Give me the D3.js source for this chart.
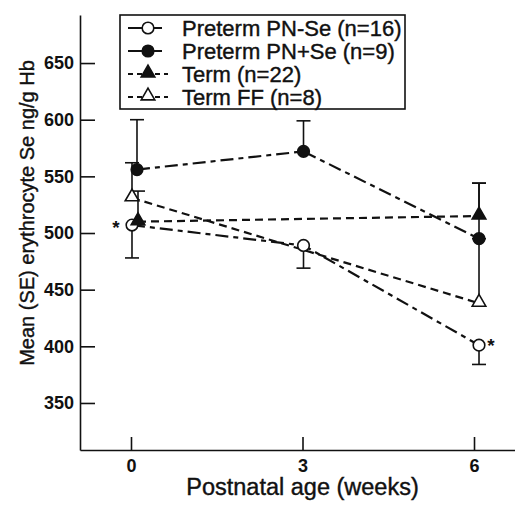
<!DOCTYPE html>
<html>
<head>
<meta charset="utf-8">
<script src="https://cdn.jsdelivr.net/npm/d3@7"></script>
<style>
  body { margin: 0; background: #fff; }
  text { font-family: "Liberation Sans", Arial, Helvetica, sans-serif; fill: #111; }
  .heavy { stroke: #111; stroke-width: 0.4px; }
</style>
</head>
<body>
<div id="chart"></div>
<script>
// values
var yTicks = [350, 400, 450, 500, 550, 600, 650];
var xTicks = [0, 3, 6];

var pnMinusWeeks = [0, 3, 6];
var pnMinusMean = [507, 489, 401];
var pnMinusSE = [29, 20, 17];

var pnPlusWeeks = [0, 3, 6];
var pnPlusMean = [556, 572, 495];
var pnPlusSE = [44, 27, 49];

var termWeeks = [0, 6];
var termMean = [510, 515];
var termSE = [27, 29];

var termFFWeeks = [0, 6];
var termFFMean = [531, 438];
var termFFSE = [31, 57];

var series = [
    { name: "Preterm PN-Se (n=16)", weeks: pnMinusWeeks, mean: pnMinusMean, se: pnMinusSE, side: -1,
      marker: "circle", filled: false, dash: "13,5,5,5", key: "17,9,8,100", jitter: [1, 1, 5] },
    { name: "Preterm PN+Se (n=9)", weeks: pnPlusWeeks, mean: pnPlusMean, se: pnPlusSE, side: 1,
      marker: "circle", filled: true, dash: "13,5,5,5", key: "17,9,8,100", jitter: [6, 1, 5] },
    { name: "Term (n=22)", weeks: termWeeks, mean: termMean, se: termSE, side: 1,
      marker: "triangle", filled: true, dash: "8,5", key: "5,4", jitter: [7, 5] },
    { name: "Term FF (n=8)", weeks: termFFWeeks, mean: termFFMean, se: termFFSE, side: 1,
      marker: "triangle", filled: false, dash: "8,5", key: "5,4", jitter: [1, 5] }
];

function drawChart() {
    var width = 515, height = 506;
    var mLeft = 80, mRight = 515, mTop = 15, mBottom = 450;

    var svg = d3.select("#chart").append("svg")
        .attr("width", width)
        .attr("height", height);

    var x = d3.scaleLinear().domain([-0.892, 6.717]).range([mLeft, mRight]);
    var y = d3.scaleLinear().domain([308.5, 692.4]).range([mBottom, mTop]);

    // axes, ticks pointing inward
    var yAxis = svg.append("g")
        .attr("transform", "translate(" + mLeft + ",0)")
        .call(d3.axisLeft(y).tickValues(yTicks).tickSize(-15).tickSizeOuter(0).tickPadding(6));
    var xAxis = svg.append("g")
        .attr("transform", "translate(0," + mBottom + ")")
        .call(d3.axisBottom(x).tickValues(xTicks).tickSize(-13).tickSizeOuter(0).tickPadding(9));

    [yAxis, xAxis].forEach(function(g) {
        g.select(".domain").attr("stroke", "#111").attr("stroke-width", 1.6);
        g.selectAll(".tick line").attr("stroke", "#111").attr("stroke-width", 1.6);
        g.selectAll(".tick text").attr("font-size", 18).attr("font-weight", "bold")
            .attr("font-family", "'Liberation Sans', Arial, sans-serif").attr("fill", "#111");
    });

    svg.append("text")
        .attr("class", "heavy")
        .attr("transform", "translate(27,213) rotate(-90)")
        .attr("text-anchor", "middle")
        .attr("dy", "0.35em")
        .attr("font-size", 20)
        .text("Mean (SE) erythrocyte Se ng/g Hb");

    svg.append("text")
        .attr("class", "heavy")
        .attr("x", x(3))
        .attr("y", 495)
        .attr("text-anchor", "middle")
        .attr("font-size", 23.5)
        .text("Postnatal age (weeks)");

    function drawMarker(g, s, cx, cy) {
        if (s.marker === "circle") {
            g.append("circle").attr("cx", cx).attr("cy", cy).attr("r", 5.8)
                .attr("fill", s.filled ? "#111" : "#fff")
                .attr("stroke", "#111").attr("stroke-width", 1.6);
        } else {
            g.append("path")
                .attr("d", d3.symbol().type(d3.symbolTriangle).size(80)())
                .attr("transform", "translate(" + cx + "," + (cy - 1) + ")")
                .attr("fill", s.filled ? "#111" : "#fff")
                .attr("stroke", "#111").attr("stroke-width", 1.6);
        }
    }

    var plot = svg.append("g");

    // error bars first, then lines, then markers on top
    series.forEach(function(s) {
        s.weeks.forEach(function(w, i) {
            var px = x(w) + s.jitter[i];
            var end = y(s.mean[i] + s.side * s.se[i]);
            plot.append("line").attr("x1", px).attr("x2", px)
                .attr("y1", y(s.mean[i])).attr("y2", end)
                .attr("stroke", "#111").attr("stroke-width", 1.6);
            plot.append("line").attr("x1", px - 7).attr("x2", px + 7)
                .attr("y1", end).attr("y2", end)
                .attr("stroke", "#111").attr("stroke-width", 1.6);
        });
    });

    series.forEach(function(s) {
        var line = d3.line()
            .x(function(d, i) { return x(s.weeks[i]) + s.jitter[i]; })
            .y(function(d) { return y(d); });
        plot.append("path")
            .attr("d", line(s.mean))
            .attr("fill", "none")
            .attr("stroke", "#111")
            .attr("stroke-width", 2.2)
            .attr("stroke-dasharray", s.dash);
    });

    series.forEach(function(s) {
        s.weeks.forEach(function(w, i) {
            drawMarker(plot, s, x(w) + s.jitter[i], y(s.mean[i]));
        });
    });

    // significance stars on PN-Se
    svg.append("text").attr("x", x(0) - 15).attr("y", y(pnMinusMean[0]) + 9)
        .attr("font-size", 19).attr("font-weight", "bold").attr("text-anchor", "middle").text("*");
    svg.append("text").attr("x", x(6) + 17).attr("y", y(pnMinusMean[2]) + 7)
        .attr("font-size", 19).attr("font-weight", "bold").attr("text-anchor", "middle").text("*");

    // legend
    var legend = svg.append("g");
    legend.append("rect")
        .attr("x", 120).attr("y", 15).attr("width", 285).attr("height", 94)
        .attr("fill", "#fff").attr("stroke", "#111").attr("stroke-width", 1.6);

    series.forEach(function(s, i) {
        var ry = 28 + i * 23;
        legend.append("line")
            .attr("x1", 128).attr("x2", 168).attr("y1", ry).attr("y2", ry)
            .attr("stroke", "#111").attr("stroke-width", 2)
            .attr("stroke-dasharray", s.key);
        drawMarker(legend, s, 148, ry);
        legend.append("text")
            .attr("class", "heavy")
            .attr("x", 182).attr("y", ry)
            .attr("dy", "0.36em")
            .attr("font-size", 22)
            .text(s.name);
    });
}

drawChart();
</script>
</body>
</html>
